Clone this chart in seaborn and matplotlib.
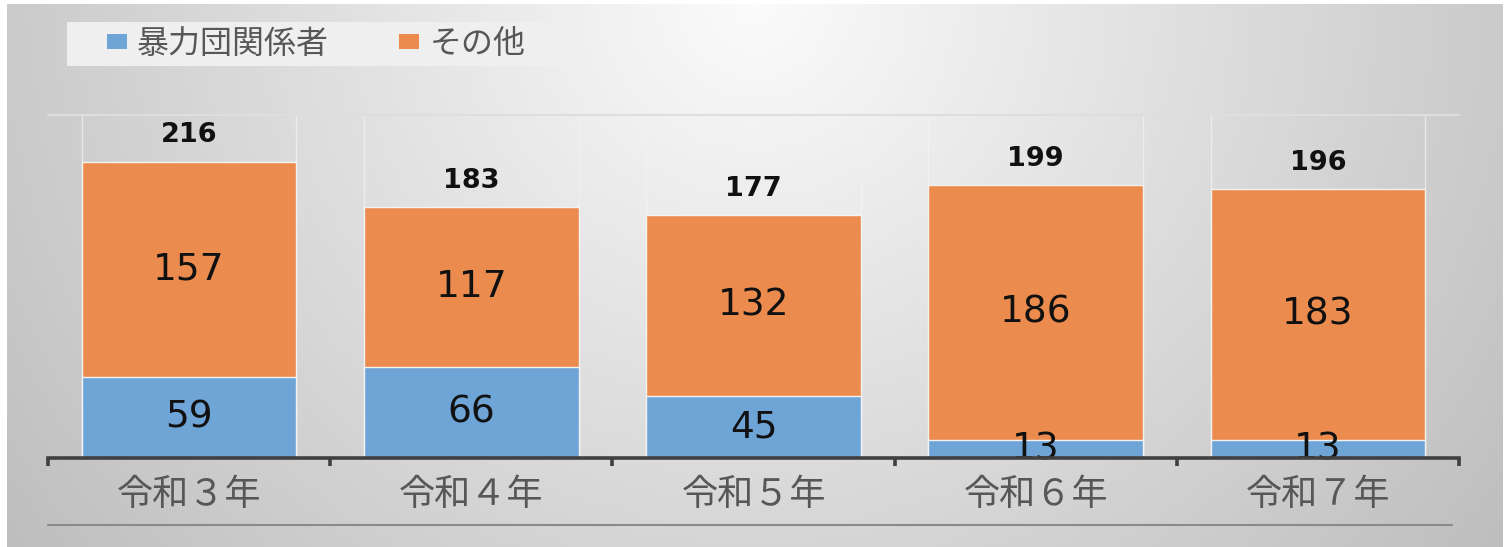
import numpy as np
import pandas as pd
import matplotlib
matplotlib.use("Agg")
import matplotlib.pyplot as plt
from matplotlib.patches import Patch, Rectangle
from matplotlib.lines import Line2D
import seaborn as sns

# ---- data ----
categories = ["令和３年", "令和４年", "令和５年", "令和６年", "令和７年"]
boryokudan = [59, 66, 45, 13, 13]
sonota = [157, 117, 132, 186, 183]
totals = [216, 183, 177, 199, 196]
series_names = ["暴力団関係者", "その他"]

BLUE = "#6fa4d7"
ORANGE = "#eb8c4e"
W, H = 1511, 547

sns.set_theme(style="white")
plt.rcParams["font.family"] = ["Noto Sans CJK JP", "DejaVu Sans"]

fig = plt.figure(figsize=(W / 100, H / 100), dpi=100)
fig.patch.set_facecolor("white")

# background gradient panel
bg = fig.add_axes([7 / W, 0, (1503 - 7) / W, (547 - 4) / H], zorder=-10)
gx, gy = np.meshgrid(np.linspace(0, 1, 300), np.linspace(0, 1, 120))
d = np.sqrt(((gx - 0.5) / 0.5) ** 2 + ((1 - gy) / 1.3) ** 2)
g = np.clip(0.985 - 0.19 * d, 0, 1)
bg.imshow(np.dstack([g, g, g]), extent=[0, 1, 0, 1], origin="lower", aspect="auto")
bg.set_axis_off()

ax = fig.add_axes([48 / W, (H - 458) / H, (1459 - 48) / W, (458 - 115) / H])
ax.set_facecolor("none")

df = pd.DataFrame({"cat": categories, "total": totals, "b": boryokudan, "s": sonota})
bw = 0.76
sns.barplot(data=df, x="cat", y="total", color=ORANGE, width=bw, saturation=1,
            edgecolor="#f3f3f3", linewidth=1, ax=ax, zorder=3)
sns.barplot(data=df, x="cat", y="b", color=BLUE, width=bw, saturation=1,
            edgecolor="#f3f3f3", linewidth=1, ax=ax, zorder=4)

ax.set_xlim(-0.5, len(categories) - 0.5)
ax.set_ylim(0, 250)
ax.set_xlabel("")
ax.set_ylabel("")
ax.set_yticks([])

# faint lines at bar edges above bars
for i, t in enumerate(totals):
    ax.vlines([i - bw / 2, i + bw / 2], t, 250, color="#f4f4f4", lw=1.0, alpha=0.7, zorder=1)
ax.axhline(250, color="#dedede", lw=1.5, zorder=1, clip_on=False)

# labels
for i in range(len(categories)):
    ax.text(i, boryokudan[i] / 2, str(boryokudan[i]), ha="center", va="center",
            fontsize=27, family="DejaVu Sans", color="#111111", zorder=6)
    ax.text(i, boryokudan[i] + sonota[i] / 2, str(sonota[i]), ha="center", va="center",
            fontsize=27, family="DejaVu Sans", color="#111111", zorder=6)
    ax.annotate(str(totals[i]), (i, totals[i]), xytext=(0, 19), textcoords="offset points",
                ha="center", va="center", fontsize=19.5, fontweight="bold",
                family="DejaVu Sans", color="#111111", zorder=6)

for s in ["left", "right", "top"]:
    ax.spines[s].set_visible(False)
ax.spines["bottom"].set_color("#404040")
ax.spines["bottom"].set_linewidth(2.6)
ax.spines["bottom"].set_zorder(7)

ax.set_xticks(range(len(categories)))
ax.set_xticklabels(categories, fontsize=26, color="#575757")
ax.tick_params(axis="x", which="major", length=0, pad=14, bottom=False)
ax.set_xticks(np.arange(-0.5, len(categories), 1.0), minor=True)
ax.tick_params(axis="x", which="minor", bottom=True, length=6, width=2.6,
               color="#404040", direction="out")

# line below category labels
fig.add_artist(Line2D([48 / W, 1452 / W], [(H - 525) / H] * 2, color="#8a8a8a", lw=1.5))

# legend background box
fig.add_artist(Rectangle((67 / W, (H - 66) / H), 500 / W, 44 / H, transform=fig.transFigure,
                         facecolor="#efefef", edgecolor="none", zorder=1))
handles = [Patch(facecolor=BLUE, edgecolor="none"), Patch(facecolor=ORANGE, edgecolor="none")]
leg = fig.legend(handles, series_names, loc="center left",
                 bbox_to_anchor=(107 / W, (H - 44) / H), ncol=2, frameon=False,
                 fontsize=23, handlelength=0.62, handleheight=0.33, handletextpad=0.32,
                 columnspacing=2.2, borderpad=0, borderaxespad=0)
leg.set_zorder(2)
for t in leg.get_texts():
    t.set_color("#575757")

fig.savefig("out.png", dpi=100)
